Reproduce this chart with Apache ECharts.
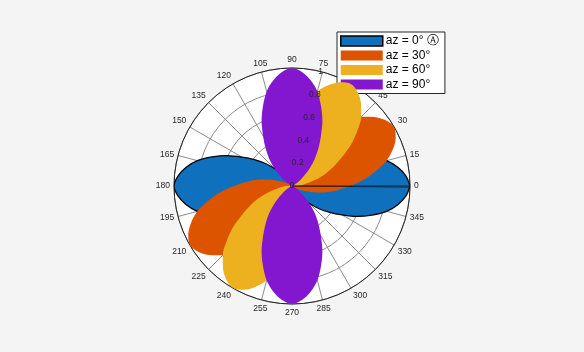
<!DOCTYPE html>
<html>
<head>
<meta charset="utf-8">
<script src="https://cdn.jsdelivr.net/npm/echarts@6/dist/echarts.min.js"></script>
<style>
html,body{margin:0;padding:0;background:#f4f4f4;}
#c{width:584px;height:352px;}
</style>
</head>
<body>
<div id="c"></div>
<script>
// angles (degrees) of the sampled points
var angles = [0,5,10,15,20,25,30,35,40,45,50,55,60,65,70,75,80,85,90,95,100,105,110,115,120,125,130,135,140,145,150,155,160,165,170,175,180,
  185,190,195,200,205,210,215,220,225,230,235,240,245,250,255,260,265,270,275,280,285,290,295,300,305,310,315,320,325,330,335,340,345,350,355,360];
var seriesNames = ['az = 0° Ⓐ','az = 30°','az = 60°','az = 90°'];
var az0 = [1.00,.97,.91,.83,.72,.61,.49,.39,.30,.21,.13,.08,.045,.02,.01,.005,0,0,0,0,0,.005,.01,.02,.045,.08,.13,.21,.30,.39,.49,.61,.72,.83,.91,.97,1.00,
  .97,.91,.83,.72,.61,.49,.39,.30,.21,.13,.08,.045,.02,.01,.005,0,0,0,0,0,.005,.01,.02,.045,.08,.13,.21,.30,.39,.49,.61,.72,.83,.91,.97,1.00];
var az30 = [.49,.61,.72,.83,.91,.97,1.00,.97,.91,.83,.72,.61,.49,.39,.30,.21,.13,.08,.045,.02,.01,.005,0,0,0,0,0,.005,.01,.02,.045,.08,.13,.21,.30,.39,.49,
  .61,.72,.83,.91,.97,1.00,.97,.91,.83,.72,.61,.49,.39,.30,.21,.13,.08,.045,.02,.01,.005,0,0,0,0,0,.005,.01,.02,.045,.08,.13,.21,.30,.39,.49];
var az60 = [.045,.08,.13,.21,.30,.39,.49,.61,.72,.83,.91,.97,1.00,.97,.91,.83,.72,.61,.49,.39,.30,.21,.13,.08,.045,.02,.01,.005,0,0,0,0,0,.005,.01,.02,.045,
  .08,.13,.21,.30,.39,.49,.61,.72,.83,.91,.97,1.00,.97,.91,.83,.72,.61,.49,.39,.30,.21,.13,.08,.045,.02,.01,.005,0,0,0,0,0,.005,.01,.02,.045];
var az90 = [0,0,0,.005,.01,.02,.045,.08,.13,.21,.30,.39,.49,.61,.72,.83,.91,.97,1.00,.97,.91,.83,.72,.61,.49,.39,.30,.21,.13,.08,.045,.02,.01,.005,0,0,0,
  0,0,.005,.01,.02,.045,.08,.13,.21,.30,.39,.49,.61,.72,.83,.91,.97,1.00,.97,.91,.83,.72,.61,.49,.39,.30,.21,.13,.08,.045,.02,.01,.005,0,0,0];
// thin dark lines from centre along ~0°
var edgeR = [0, 1];
var edgeA = [0, 0];
var edgeA2 = [0, 359.4];
var radiusTicks = [0, 0.2, 0.4, 0.6, 0.8, 1];

var colors = ['#0F71BD', '#DC5400', '#EDB120', '#8317D0'];
var values = [az0, az30, az60, az90];

function pairs(rs, as) { return rs.map(function (r, i) { return [r, as[i]]; }); }

var chart = echarts.init(document.getElementById('c'), null, {renderer: 'canvas'});
var FONT = 'Liberation Sans, Arial, sans-serif';
var series = values.map(function (v, i) {
  return {
    name: seriesNames[i], type: 'line', coordinateSystem: 'polar', polarIndex: 1,
    data: pairs(v, angles), symbol: 'none', smooth: 0.3,
    lineStyle: i === 0 ? {color: '#000', width: 1.3} : {width: 0, color: colors[i]},
    itemStyle: {color: colors[i]},
    areaStyle: {color: colors[i], opacity: 1},
    z: 2 + i
  };
});
series.push({type: 'line', coordinateSystem: 'polar', polarIndex: 1, data: pairs(edgeR, edgeA), symbol: 'none',
  lineStyle: {color: '#111', width: 0.8}, z: 8, silent: true});
series.push({type: 'line', coordinateSystem: 'polar', polarIndex: 1, data: pairs(edgeR, edgeA2), symbol: 'none',
  lineStyle: {color: '#111', width: 0.6}, z: 8, silent: true});

chart.setOption({
  animation: false,
  backgroundColor: '#f4f4f4',
  polar: [
    {center: [292, 186], radius: 118},
    {center: [292, 186], radius: 118},
    {center: [292, 186], radius: 118}
  ],
  angleAxis: [
    {polarIndex: 0, type: 'value', min: 0, max: 360, interval: 15, startAngle: 0, clockwise: false, z: 0,
     axisLine: {show: false}, axisTick: {show: false}, axisLabel: {show: false}, splitLine: {show: false},
     splitArea: {show: true, areaStyle: {color: ['#ffffff']}}},
    {polarIndex: 1, type: 'value', min: 0, max: 360, interval: 15, startAngle: 0, clockwise: false, z: 1,
     axisLine: {show: true, lineStyle: {color: '#262626', width: 1}},
     axisTick: {show: false},
     axisLabel: {show: true, margin: 4, color: '#262626', fontSize: 8.5, fontFamily: FONT,
       formatter: function (v) { return v >= 360 ? '' : String(v); }},
     splitLine: {show: true, lineStyle: {color: '#8c8c8c', width: 1}},
     splitArea: {show: false}
    },
    {polarIndex: 2, type: 'value', min: 0, max: 360, startAngle: 76, clockwise: false, show: false}
  ],
  radiusAxis: [
    {polarIndex: 0, type: 'value', min: 0, max: 1, interval: 0.2, z: 0,
     axisLine: {show: false}, axisTick: {show: false}, axisLabel: {show: false}, splitLine: {show: false}},
    {polarIndex: 1, type: 'value', min: 0, max: 1, interval: 0.2, z: 1,
     axisLine: {show: false}, axisTick: {show: false}, axisLabel: {show: false},
     splitLine: {show: true, lineStyle: {color: '#8c8c8c', width: 1}}},
    {polarIndex: 2, type: 'value', min: 0, max: 1, interval: 0.2, z: 20,
     axisLine: {show: false}, axisTick: {show: false}, splitLine: {show: false},
     axisLabel: {show: true, margin: 0, color: '#262626', fontSize: 8.5, fontFamily: FONT,
       align: 'center', verticalAlign: 'middle',
       formatter: function (v) { return radiusTicks.indexOf(+v.toFixed(1)) >= 0 ? String(+v.toFixed(1)) : ''; }}}
  ],
  legend: {
    left: 337, top: 32, orient: 'vertical', icon: 'rect',
    itemWidth: 42, itemHeight: 10, itemGap: 0.5,
    padding: [2, 6, 2, 3],
    backgroundColor: '#ffffff', borderColor: '#262626', borderWidth: 1, borderRadius: 0,
    textStyle: {color: '#000', fontSize: 12, fontFamily: FONT, lineHeight: 14, padding: [0, 0, 0, -2]},
    data: seriesNames.map(function (n, i) {
      return {name: n, itemStyle: i === 0 ? {color: colors[i], borderColor: '#000', borderWidth: 1.5} : {color: colors[i], borderWidth: 0}};
    })
  },
  series: series
});
</script>
</body>
</html>
